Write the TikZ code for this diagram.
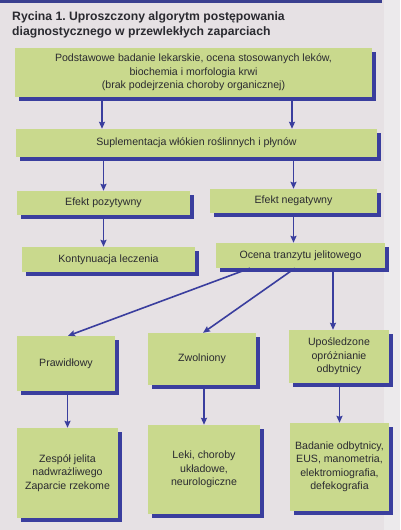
\documentclass[tikz,border=0pt]{standalone}
\usepackage{fontspec}
\setmainfont{Liberation Sans}
\frenchspacing
\usetikzlibrary{shadows,arrows.meta}
\definecolor{bg}{HTML}{E6E1E4}
\definecolor{bgl}{HTML}{ECEAEC}
\definecolor{boxg}{HTML}{C9D98D}
\definecolor{shblue}{HTML}{3A3E9E}
\definecolor{navy}{HTML}{3A3F8F}
\definecolor{txt}{HTML}{2A2A30}
\tikzset{
  box/.style={fill=boxg, inner sep=0pt, align=center, text=txt,
    font=\fontsize{10.6}{13.5}\selectfont,
    drop shadow={shadow xshift=3.5pt,shadow yshift=-3.5pt,fill=shblue,opacity=1}},
  arr/.style={draw=shblue, line width=1.6pt, -{Stealth[length=7pt,width=6pt,inset=1pt]}},
  ttl/.style={anchor=base west, inner sep=0pt, text=txt, font=\bfseries\fontsize{12.2}{15}\selectfont}
}
\begin{document}
\begin{tikzpicture}[x=1pt,y=-1pt]
\useasboundingbox (0,0) rectangle (400,530);
\fill[bg] (0,0) rectangle (400,530);
\fill[bgl] (384,0) rectangle (400,530);
\fill[navy] (0,0) rectangle (382,3);
\node[ttl] (t1) at (12,20) {Rycina 1. Uproszczony algorytm postępowania};
\node[ttl] (t2) at (12,35) {diagnostycznego w przewlekłych zaparciach};

\node[box, minimum width=357pt, minimum height=49pt] (b1) at (193.5,72.5)
  {Podstawowe badanie lekarskie, ocena stosowanych leków,\\biochemia i morfologia krwi\\(brak podejrzenia choroby organicznej)};
\node[box, minimum width=361pt, minimum height=28pt] (b2) at (196.5,143)
  {Suplementacja włókien roślinnych i płynów};
\node[box, minimum width=173pt, minimum height=24pt] (poz) at (103.5,203) {Efekt pozytywny};
\node[box, minimum width=167pt, minimum height=24pt] (neg) at (293.5,201) {Efekt negatywny};
\node[box, minimum width=173pt, minimum height=25pt] (kont) at (108.5,259.5) {Kontynuacja leczenia};
\node[box, minimum width=169pt, minimum height=25pt] (oc) at (300.5,255.5) {Ocena tranzytu jelitowego};
\node[box, minimum width=98pt, minimum height=55pt] (praw) at (66,363.5) {Prawidłowy};
\node[box, minimum width=108pt, minimum height=52pt] (zwol) at (202,359) {Zwolniony};
\node[box, minimum width=100pt, minimum height=53pt] (upos) at (339,356.5) {Upośledzone\\opróżnianie\\odbytnicy};
\node[box, minimum width=101pt, minimum height=90pt] (zesp) at (67.5,473) {Zespół jelita\\nadwrażliwego\\Zaparcie rzekome};
\node[box, minimum width=112pt, minimum height=89pt] (leki) at (204,469.5) {Leki, choroby\\układowe,\\neurologiczne};
\node[box, minimum width=99pt, minimum height=88pt] (bad) at (339.5,467) {Badanie odbytnicy,\\EUS, manometria,\\elektromiografia,\\defekografia};

\draw[arr] ([xshift=-91.5pt]b1.south) -- ([xshift=-94.5pt]b2.north);
\draw[arr] ([xshift=98.5pt]b1.south) -- ([xshift=95.5pt]b2.north);
\draw[arr] (b2.south -| poz.north) -- (poz.north);
\draw[arr] (b2.south -| neg.north) -- (neg.north);
\draw[arr] (poz.south) -- (poz.south |- kont.north);
\draw[arr] (neg.south) -- (neg.south |- oc.north);
\draw[arr] ([xshift=-50.5pt]oc.south) -- ([xshift=2pt]praw.north);
\draw[arr] ([xshift=-5.5pt]oc.south) -- ([xshift=1pt]zwol.north);
\draw[arr] ([xshift=32.5pt]oc.south) -- ([xshift=-6pt]upos.north);
\draw[arr] (praw.south -| zesp.north) -- (zesp.north);
\draw[arr] (zwol.south -| leki.north) -- (leki.north);
\draw[arr] (upos.south -| bad.north) -- (bad.north);
\end{tikzpicture}
\end{document}
